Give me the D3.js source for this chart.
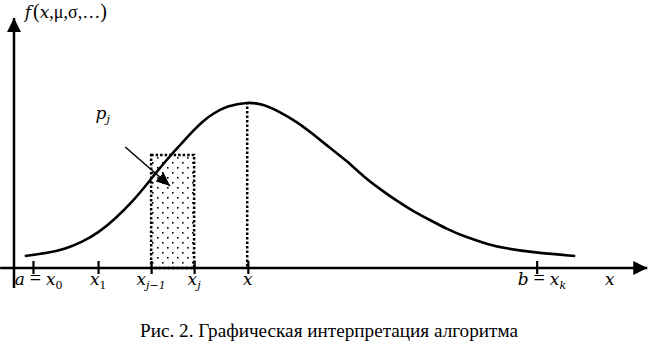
<!DOCTYPE html>
<html>
<head>
<meta charset="utf-8">
<script src="https://cdn.jsdelivr.net/npm/d3@7"></script>
<style>
  body { margin: 0; background: #fff; }
</style>
</head>
<body>
<div id="chart-area"></div>
<script>
// Density curve (x in axis units, y in density units)
var curveX = [0.17, 0.54, 0.81, 1.08, 1.33, 1.60, 1.87, 2.12, 2.28, 2.47, 2.63, 2.83, 2.99,
              3.15, 3.37, 3.69, 3.94, 4.21, 4.48, 4.73, 5.00, 5.27, 5.52, 5.79, 6.06, 6.31,
              6.58, 6.85, 7.10, 7.53, 7.74, 8.28, 8.88];
var curveY = [0.048, 0.060, 0.076, 0.104, 0.140, 0.196, 0.264, 0.340, 0.392, 0.448, 0.492,
              0.548, 0.588, 0.618, 0.648, 0.664, 0.656, 0.624, 0.584, 0.536, 0.480, 0.428,
              0.368, 0.316, 0.268, 0.228, 0.192, 0.156, 0.128, 0.092, 0.080, 0.060, 0.048];

// tick positions on the x axis and their labels (i = italic, r = roman, s = subscript)
var tickPos = [0.30, 1.33, 2.17, 2.85, 3.70, 8.27];
var tickLabels = [
  [["a", "i"], [" = ", "r"], ["x", "i"], ["0", "s"]],
  [["x", "i"], ["1", "s"]],
  [["x", "i"], ["j\u22121", "si"]],
  [["x", "i"], ["j", "si"]],
  [["x", "i"]],
  [["b", "i"], [" = ", "r"], ["x", "i"], ["k", "si"]]
];

// highlighted interval [x_{j-1}, x_j] and its height, mean
var binFrom = 2.17, binTo = 2.85, binHeight = 0.452;
var meanX = 3.69, meanY = 0.664;

// p_j annotation arrow (from, to)
var arrowFrom = [1.76, 0.484], arrowTo = [2.47, 0.328];

var caption = "Рис. 2. Графическая интерпретация алгоритма";

var roman = "Liberation Serif", italic = "DejaVu Serif";
var width = 650, height = 346;

var svg = d3.select("#chart-area")
    .append("svg")
        .attr("width", width)
        .attr("height", height)
        .style("font-family", roman);

var x = d3.scaleLinear()
    .domain([0, 10])
    .range([14, 646]);

var y = d3.scaleLinear()
    .domain([0, 1])
    .range([268, 18]);

var defs = svg.append("defs");

defs.append("marker")
    .attr("id", "axisArrow")
    .attr("viewBox", "0 0 14 14")
    .attr("refX", 14).attr("refY", 7)
    .attr("markerWidth", 14).attr("markerHeight", 14)
    .attr("markerUnits", "userSpaceOnUse")
    .attr("orient", "auto")
  .append("path")
    .attr("d", "M0,0 L14,7 L0,14 Z")
    .attr("fill", "#000");

defs.append("marker")
    .attr("id", "pArrow")
    .attr("viewBox", "0 0 14 12")
    .attr("refX", 14).attr("refY", 6)
    .attr("markerWidth", 14).attr("markerHeight", 12)
    .attr("markerUnits", "userSpaceOnUse")
    .attr("orient", "auto")
  .append("path")
    .attr("d", "M0,0 L14,6 L0,12 Z")
    .attr("fill", "#000");

var dots = defs.append("pattern")
    .attr("id", "dots")
    .attr("patternUnits", "userSpaceOnUse")
    .attr("width", 10).attr("height", 10);
dots.append("rect").attr("x", 2).attr("y", 2).attr("width", 1.6).attr("height", 1.6).attr("fill", "#000");
dots.append("rect").attr("x", 7).attr("y", 7).attr("width", 1.6).attr("height", 1.6).attr("fill", "#000");

// shaded bin
svg.append("rect")
    .attr("x", x(binFrom))
    .attr("y", y(binHeight))
    .attr("width", x(binTo) - x(binFrom))
    .attr("height", y(0) - y(binHeight))
    .attr("fill", "url(#dots)")
    .attr("stroke", "#000")
    .attr("stroke-width", 2.5)
    .attr("stroke-dasharray", "2.5,2");

// dotted line at the mean
svg.append("line")
    .attr("x1", x(meanX)).attr("x2", x(meanX))
    .attr("y1", y(meanY)).attr("y2", y(0))
    .attr("stroke", "#000")
    .attr("stroke-width", 2.5)
    .attr("stroke-dasharray", "2.5,2");

// axes
svg.append("line")
    .attr("x1", x(-0.22)).attr("x2", x(10.02))
    .attr("y1", y(0)).attr("y2", y(0))
    .attr("stroke", "#000").attr("stroke-width", 2.5)
    .attr("marker-end", "url(#axisArrow)");

svg.append("line")
    .attr("x1", x(0)).attr("x2", x(0))
    .attr("y1", y(-0.08)).attr("y2", y(1))
    .attr("stroke", "#000").attr("stroke-width", 2.5)
    .attr("marker-end", "url(#axisArrow)");

var xAxis = d3.axisBottom(x)
    .tickValues(tickPos)
    .tickFormat("")
    .tickSizeOuter(0)
    .tickSizeInner(6);
var gx = svg.append("g")
    .attr("transform", "translate(0," + y(0) + ")")
    .call(xAxis);
gx.select(".domain").remove();
gx.selectAll(".tick line")
    .attr("y1", -7)
    .attr("stroke-width", 2.2);

// curve
var line = d3.line()
    .x(function(d) { return x(d[0]); })
    .y(function(d) { return y(d[1]); })
    .curve(d3.curveBasis);

svg.append("path")
    .datum(d3.zip(curveX, curveY))
    .attr("d", line)
    .attr("fill", "none")
    .attr("stroke", "#000")
    .attr("stroke-width", 2.6);

// math-like text built from parts
function mathText(t, parts) {
    parts.forEach(function(p, k) {
        var s = t.append("tspan").text(p[0]);
        if (p[1] == "i" || p[1] == "si") s.style("font-family", italic).style("font-style", "italic");
        if (p[1] == "i") s.attr("font-size", "17px");
        if (p[1] == "r") s.attr("font-size", "20px");
        if (p[1] == "s" || p[1] == "si") s.attr("font-size", p[1] == "si" ? "11px" : "13px").attr("dy", 4);
        else if (k > 0 && (parts[k - 1][1] == "s" || parts[k - 1][1] == "si")) s.attr("dy", -4);
    });
    return t;
}

// tick labels
tickLabels.forEach(function(parts, i) {
    var t = svg.append("text")
        .attr("x", x(tickPos[i]))
        .attr("y", y(0) + 17)
        .attr("text-anchor", "middle");
    mathText(t, parts);
    // labels of the form "a = x0" are centred on the "=" sign
    var sp = t.selectAll("tspan").nodes();
    if (parts.length > 2 && parts[1][0] == " = ") {
        var eqMid = sp[0].getComputedTextLength() + sp[1].getComputedTextLength() / 2;
        t.attr("text-anchor", "start").attr("x", x(tickPos[i]) - eqMid + 2.5);
    }
});

mathText(svg.append("text")
    .attr("x", x(9.35))
    .attr("y", y(0) + 17), [["x", "i"]]);

// y label f(x, mu, sigma, ...)
var fl = svg.append("text")
    .attr("x", x(0.17))
    .attr("y", 18)
    .attr("font-size", "18px");
fl.append("tspan").style("font-family", italic).style("font-style", "italic").attr("font-size", "17px").text("f");
fl.append("tspan").attr("font-size", "20px").attr("dx", 2).text("(");
fl.append("tspan").style("font-family", italic).style("font-style", "italic").attr("font-size", "17px").text("x");
fl.append("tspan").text(",\u03bc,\u03c3,\u2026");
fl.append("tspan").attr("font-size", "20px").text(")");

// p_j annotation
mathText(svg.append("text")
    .attr("x", x(1.29))
    .attr("y", y(0.595)), [["p", "i"], ["j", "si"]]);

svg.append("line")
    .attr("x1", x(arrowFrom[0])).attr("y1", y(arrowFrom[1]))
    .attr("x2", x(arrowTo[0])).attr("y2", y(arrowTo[1]))
    .attr("stroke", "#000").attr("stroke-width", 1.5)
    .attr("marker-end", "url(#pArrow)");

// caption
svg.append("text")
    .attr("x", 140)
    .attr("y", 337)
    .attr("font-size", "18px")
    .attr("textLength", 378)
    .attr("lengthAdjust", "spacingAndGlyphs")
    .text(caption);
</script>
</body>
</html>
